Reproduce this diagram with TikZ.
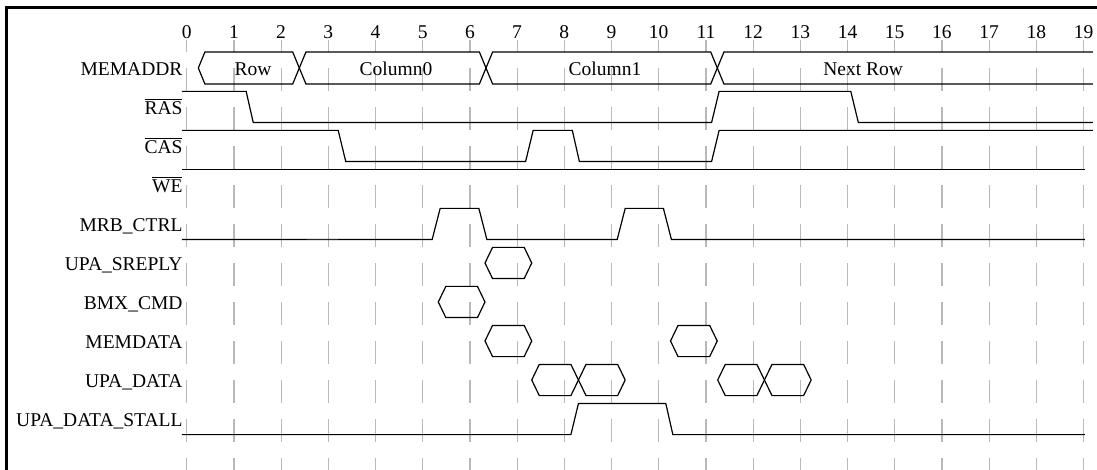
\documentclass[tikz,border=0pt]{standalone}
\usepackage{fontspec}
\setmainfont{Liberation Serif}
\usepackage{tikz}
\newcommand{\ovl}[1]{$\overline{\mbox{\raisebox{0pt}[0.74em][0pt]{#1}}}$}
\tikzset{
  sig/.style={black, line width=1.2pt},
  gridln/.style={gray!55, line width=1.2pt, dash pattern=on 23pt off 16pt, dash phase=11pt},
  lbl/.style={anchor=base east, inner sep=0pt, font=\fontsize{19.5}{23}\selectfont},
  txt/.style={anchor=base, inner sep=0pt, font=\fontsize{19.5}{23}\selectfont},
}

\begin{document}
\begin{tikzpicture}[x=47.2pt, y=-39pt]
    \useasboundingbox (-186.7pt,68pt) rectangle (910.3pt,-402pt);
    %% frame
    \draw[line width=3pt] (-180pt,-402pt) -- (-180pt,60pt) -- (910.3pt,60pt);

    %% time grid
    \foreach \t in {0,...,19} {
      \draw[gridln] (\t,-0.72) -- (\t,10.31);
      \node[txt] (n\t) at (\t,-0.76) {\t};
    }

    %% signal names
    \foreach \r/\nm in {0/MEMADDR, 1/\ovl{RAS}, 2/\ovl{CAS}, 3/\ovl{WE},
        4/MRB\_CTRL, 5/UPA\_SREPLY, 6/BMX\_CMD, 7/MEMDATA,
        8/UPA\_DATA, 9/UPA\_DATA\_STALL}
      \node[lbl] (l\r) at (-0.085,\r+0.2) {\nm};

    %% MEMADDR bus
    \draw[sig] (0.246,0) -- (0.386,-0.41) -- (2.246,-0.41) -- (2.526,0.41) -- (6.201,0.41)
      -- (6.481,-0.41) -- (11.102,-0.41) -- (11.382,0.41) -- (19.2,0.41);
    \draw[sig] (0.246,0) -- (0.386,0.41) -- (2.246,0.41) -- (2.526,-0.41) -- (6.201,-0.41)
      -- (6.481,0.41) -- (11.102,0.41) -- (11.382,-0.41) -- (19.2,-0.41);
    \node[txt] (row) at (1.405,0.19) {Row};
    \node[txt] (col0) at (4.434,0.19) {Column0};
    \node[txt] (col1) at (8.862,0.19) {Column1};
    \node[txt] (nxt) at (14.33,0.19) {Next Row};

    %% RAS, CAS, WE
    \draw[sig] (-0.1,0.6) -- (1.26,0.6) -- (1.41,1.4) -- (11.12,1.4) -- (11.28,0.6)
      -- (14.07,0.6) -- (14.23,1.4) -- (19.2,1.4);
    \draw[sig] (-0.1,1.6) -- (3.21,1.6) -- (3.37,2.4) -- (7.18,2.4) -- (7.34,1.6)
      -- (8.17,1.6) -- (8.32,2.4) -- (11.12,2.4) -- (11.28,1.6) -- (19.2,1.6);
    \draw[sig] (-0.1,2.6) -- (19.03,2.6);

    %% MRB_CTRL
    \draw[sig] (-0.1,4.4) -- (5.2,4.4) -- (5.37,3.6) -- (6.19,3.6) -- (6.36,4.4)
      -- (9.12,4.4) -- (9.29,3.6) -- (10.1,3.6) -- (10.27,4.4) -- (19.03,4.4);
    \draw[black!85, line width=1.8pt] (2.54,4.4) -- (3.21,4.4);

    %% data packets
    \foreach \a/\b/\r in {6.32/7.31/5, 5.33/6.32/6, 6.32/7.31/7, 10.25/11.24/7,
        7.31/8.30/8, 8.30/9.29/8, 11.25/12.24/8, 12.24/13.23/8}
      \draw[sig] (\a,\r) -- ({\a+0.16},{\r-0.4}) -- ({\b-0.16},{\r-0.4}) -- (\b,\r)
        -- ({\b-0.16},{\r+0.4}) -- ({\a+0.16},{\r+0.4}) -- cycle;

    %% UPA_DATA_STALL
    \draw[sig] (-0.1,9.4) -- (8.14,9.4) -- (8.30,8.6) -- (10.15,8.6) -- (10.30,9.4) -- (19.03,9.4);
  \end{tikzpicture}
\end{document}
